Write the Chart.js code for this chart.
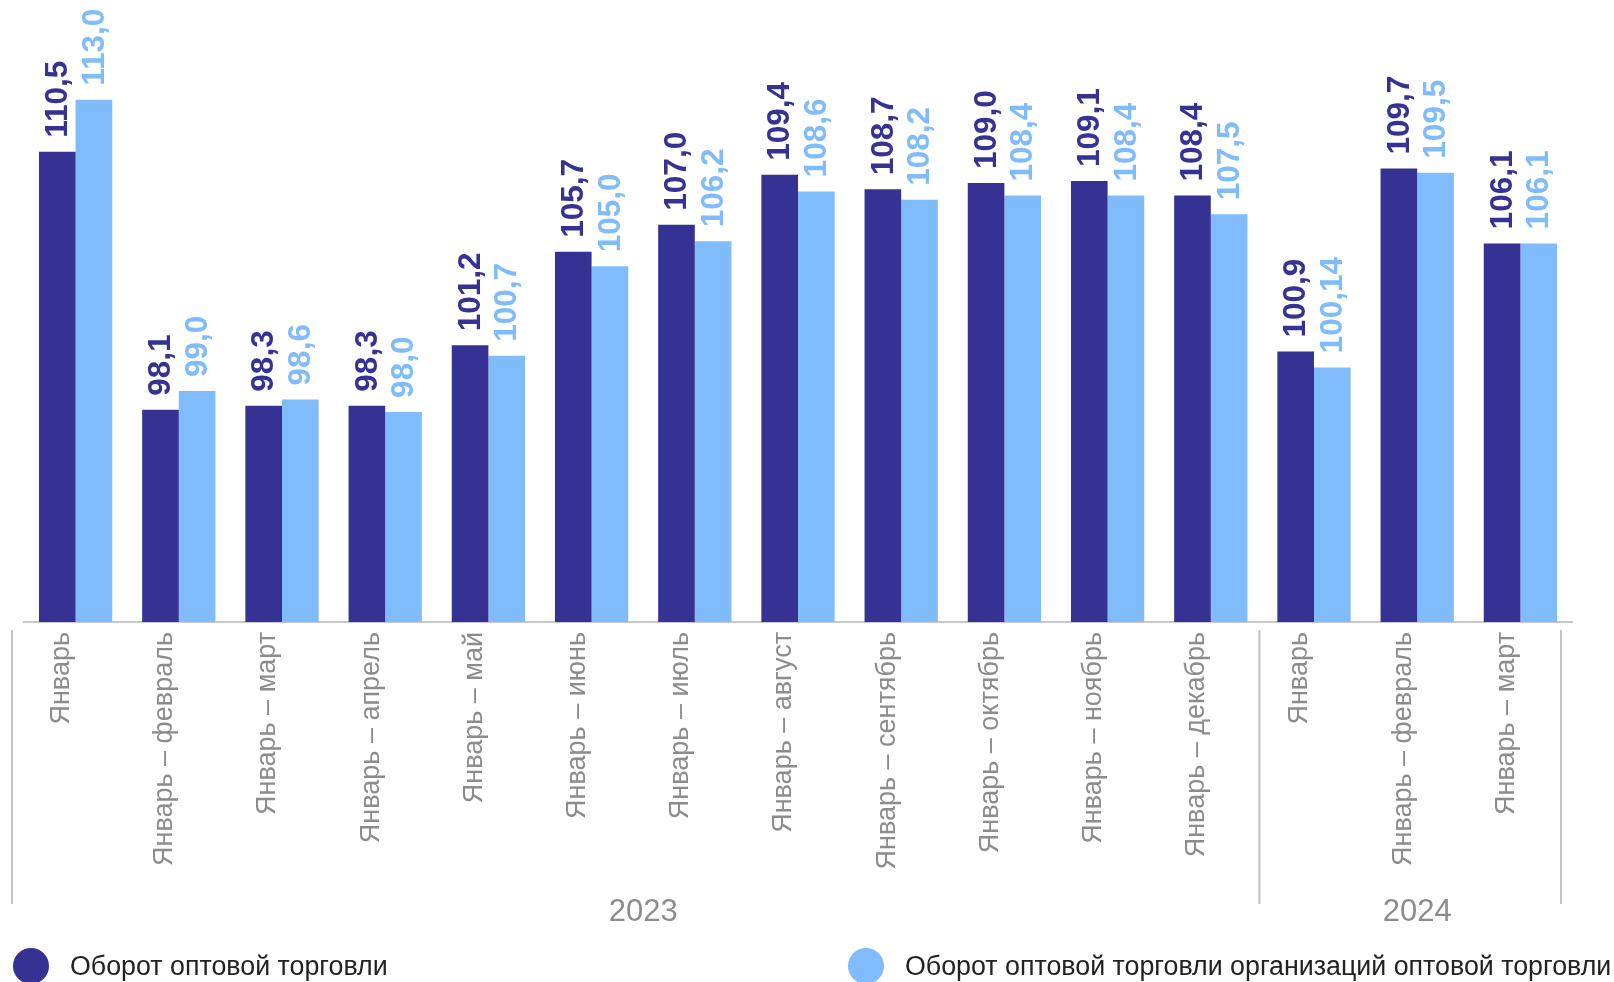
<!DOCTYPE html>
<html lang="ru">
<head>
<meta charset="utf-8">
<title>Оборот оптовой торговли</title>
<script src="https://cdn.jsdelivr.net/npm/chart.js@4.4.1/dist/chart.umd.min.js"></script>
<style>
    html, body { margin: 0; padding: 0; background: #fff; overflow: hidden; }
    #wrap { position: relative; width: 1614px; height: 982px; overflow: hidden; }
    #chart { position: absolute; left: 0; top: 0; }
    .legend-item { position: absolute; top: 947px; height: 38px; display: flex; align-items: center;
        font-family: "Liberation Sans", Arial, sans-serif; font-size: 26.8px; color: #222; white-space: nowrap; }
    .legend-dot { width: 36px; height: 36px; border-radius: 50%; margin-right: 21px; flex: none; }
</style>
</head>
<body>
<div id="wrap">
    <canvas id="chart" width="1614" height="982"></canvas>
    <div class="legend-item" style="left: 13px;"><span class="legend-dot" style="background:#363294"></span><span id="leg0"></span></div>
    <div class="legend-item" style="left: 848px;"><span class="legend-dot" style="background:#80bbfb"></span><span id="leg1"></span></div>
</div>
<script>
// chart data
const categories = [
    "Январь", "Январь – февраль", "Январь – март", "Январь – апрель", "Январь – май",
    "Январь – июнь", "Январь – июль", "Январь – август", "Январь – сентябрь",
    "Январь – октябрь", "Январь – ноябрь", "Январь – декабрь",
    "Январь", "Январь – февраль", "Январь – март"
];
const wholesaleTurnover = [110.5, 98.1, 98.3, 98.3, 101.2, 105.7, 107.0, 109.4, 108.7, 109.0, 109.1, 108.4, 100.9, 109.7, 106.1];
const wholesaleOrgTurnover = [113.0, 99.0, 98.6, 98.0, 100.7, 105.0, 106.2, 108.6, 108.2, 108.4, 108.4, 107.5, 100.14, 109.5, 106.1];
const years = ["2023", "2024"];
const yearCounts = [12, 3];
const seriesNames = ["Оборот оптовой торговли", "Оборот оптовой торговли организаций оптовой торговли"];

const darkColor = "#363294";
const lightColor = "#80bbfb";
const greyText = "#8c8c8c";
const fontFamily = "'Liberation Sans', Arial, sans-serif";

document.getElementById("leg0").textContent = seriesNames[0];
document.getElementById("leg1").textContent = seriesNames[1];

function formatValue(v) {
    return v.toLocaleString("ru-RU", { minimumFractionDigits: 1, maximumFractionDigits: 2 });
}

// value labels, rotated, above every bar
const valueLabels = {
    id: "valueLabels",
    afterDatasetsDraw(chart) {
        const ctx = chart.ctx;
        chart.data.datasets.forEach((ds, i) => {
            const meta = chart.getDatasetMeta(i);
            meta.data.forEach((bar, j) => {
                ctx.save();
                ctx.translate(bar.x, bar.y - 14);
                ctx.rotate(-Math.PI / 2);
                ctx.font = "bold 31.5px " + fontFamily;
                ctx.fillStyle = ds.backgroundColor;
                ctx.textAlign = "left";
                ctx.textBaseline = "middle";
                ctx.fillText(formatValue(ds.data[j]), 0, 1);
                ctx.restore();
            });
        });
    }
};

// year groups under the category labels, with separators
const yearGroups = {
    id: "yearGroups",
    afterDraw(chart) {
        const ctx = chart.ctx;
        const x = chart.scales.x;
        const step = x.getPixelForValue(1) - x.getPixelForValue(0);
        const top = x.top + 8;
        const bottom = x.top + 282;
        let start = 0;
        const bounds = [x.getPixelForValue(0) - step / 2 - 12];
        years.forEach((year, k) => {
            const end = start + yearCounts[k] - 1;
            const mid = (x.getPixelForValue(start) + x.getPixelForValue(end)) / 2;
            ctx.save();
            ctx.font = "31px " + fontFamily;
            ctx.fillStyle = greyText;
            ctx.textAlign = "center";
            ctx.textBaseline = "middle";
            ctx.fillText(year, mid, x.top + 290);
            ctx.restore();
            const edge = x.getPixelForValue(end) + step / 2;
            bounds.push(k === years.length - 1 ? edge - 11 : edge - 3);
            start = end + 1;
        });
        ctx.save();
        ctx.strokeStyle = "#c4c4c4";
        ctx.lineWidth = 2;
        bounds.forEach(b => {
            ctx.beginPath();
            ctx.moveTo(b, top);
            ctx.lineTo(b, bottom);
            ctx.stroke();
        });
        ctx.restore();
    }
};

const ctx = document.getElementById("chart").getContext("2d");

new Chart(ctx, {
    type: "bar",
    data: {
        labels: categories,
        datasets: [{
            label: seriesNames[0],
            data: wholesaleTurnover,
            backgroundColor: darkColor,
            barPercentage: 1,
            categoryPercentage: 0.71
        }, {
            label: seriesNames[1],
            data: wholesaleOrgTurnover,
            backgroundColor: lightColor,
            barPercentage: 1,
            categoryPercentage: 0.71
        }]
    },
    options: {
        responsive: false,
        animation: false,
        devicePixelRatio: 1,
        layout: {
            padding: { left: 24, right: 42, top: 0, bottom: 70 }
        },
        scales: {
            x: {
                grid: { display: false, drawTicks: false },
                border: { display: true, color: "#c8c8c8", width: 2 },
                ticks: {
                    minRotation: 90,
                    maxRotation: 90,
                    autoSkip: false,
                    padding: 10,
                    labelOffset: -14,
                    color: greyText,
                    font: { family: fontFamily, size: 27 }
                },
                afterFit(scale) {
                    scale.height = 290;
                }
            },
            y: {
                display: false,
                min: 87.9,
                max: 117.8
            }
        },
        plugins: {
            legend: { display: false },
            tooltip: { enabled: false }
        }
    },
    plugins: [valueLabels, yearGroups]
});
</script>
</body>
</html>
